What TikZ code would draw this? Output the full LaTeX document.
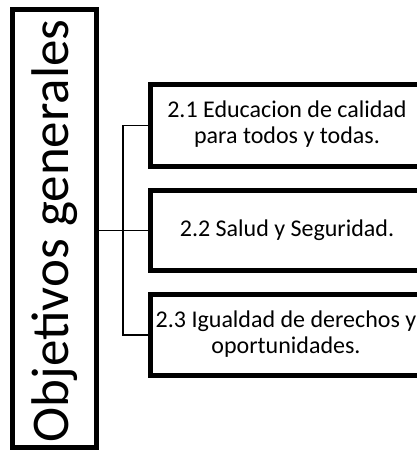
\documentclass[tikz,border=0pt]{standalone}
\usepackage{fontspec}
\setmainfont{Carlito}
\begin{document}
\begin{tikzpicture}[x=1pt,y=-1pt,
  bigbox/.style={draw=black,line width=5pt,minimum width=84pt,minimum height=438pt,inner sep=0pt},
  subbox/.style={draw=black,line width=5pt,minimum width=290pt,inner sep=0pt},
  subtext/.style={align=center,font=\fontsize{24}{26}\selectfont,inner sep=0pt},
  conn/.style={draw=black,line width=1.8pt}]
\useasboundingbox (0,0) rectangle (417,450);
\clip (0,0) rectangle (417,450);
\fill[white] (0,0) rectangle (417,450);
\node[bigbox] (main) at (54.5,228.5) {};
\node[rotate=90,font=\fontsize{53}{60}\selectfont,inner sep=0pt] (maintext) at (55,231) {Objetivos generales};
\node[subbox,minimum height=82pt] (b1) at (295.5,125.5) {};
\node[subbox,minimum height=80pt] (b2) at (295.5,230.5) {};
\node[subbox,minimum height=81pt] (b3) at (295.5,335) {};
\node[subtext] (t1) at (287,124) {2.1 Educacion de calidad\\para todos y todas.};
\node[subtext] (t2) at (287,230) {2.2 Salud y Seguridad.};
\node[subtext] (t3) at (286,334) {2.3 Igualdad de derechos y\\oportunidades.};
\coordinate (j) at (123,230.5);
\draw[conn] (main.east |- j) -- (b2.west |- j);
\draw[conn] (b1.west) -| (j) |- (b3.west);
\end{tikzpicture}
\end{document}
